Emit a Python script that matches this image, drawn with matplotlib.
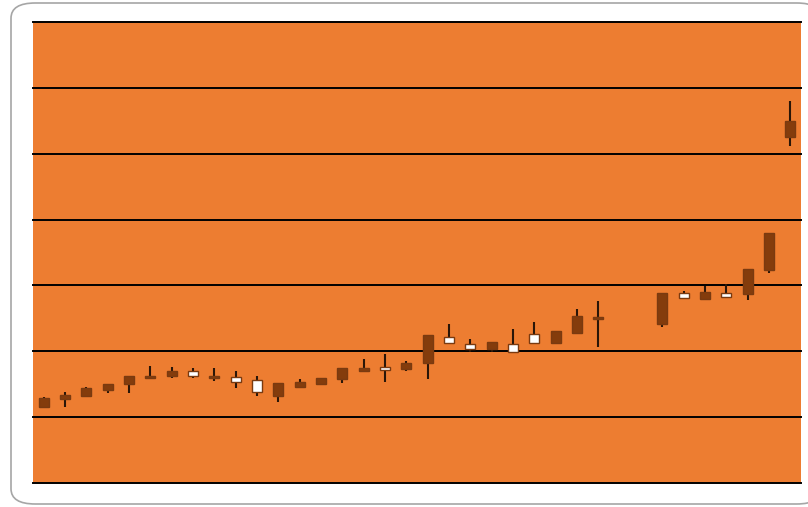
import matplotlib

matplotlib.use("Agg")
import matplotlib.pyplot as plt
import numpy as np
from matplotlib.patches import FancyBboxPatch

# 36 trading slots, two of them empty (no quote)
opens = [12.95, 13.36, 14.38, 14.99, 16.29, 16.29, 17.05, 16.25, 16.29, 15.38,
         13.77, 15.14, 15.29, 15.90, 17.42, 17.42, 17.16, 18.18, 22.47, 21.26,
         20.30, 21.36, 19.85, 21.21, 23.12, 25.40, 25.16, None, None, 28.80,
         28.04, 29.05, 28.20, 32.45, 37.91, 55.01]
highs = [13.10, 13.86, 14.53, 15.00, 16.29, 17.81, 17.66, 17.42, 17.42, 17.01,
         16.25, 15.14, 15.75, 15.90, 17.42, 18.78, 19.54, 18.57, 22.47, 24.07,
         21.82, 21.36, 23.38, 24.49, 23.12, 26.37, 27.68, None, None, 28.80,
         29.20, 29.91, 30.22, 32.45, 37.91, 58.05]
lows = [11.55, 11.59, 13.21, 13.71, 13.71, 15.94, 15.90, 15.90, 15.53, 14.47,
        13.26, 12.34, 14.38, 15.03, 15.23, 17.05, 15.29, 17.05, 15.75, 21.26,
        19.94, 19.94, 19.85, 21.21, 21.21, 22.73, 20.70, None, None, 23.73,
        28.04, 27.94, 28.20, 27.79, 31.93, 51.22]
closes = [11.59, 12.71, 13.21, 14.12, 15.03, 15.94, 16.25, 17.01, 15.90, 16.05,
          15.64, 13.26, 14.62, 15.03, 15.75, 17.05, 17.66, 17.31, 18.27, 22.21,
          21.06, 20.30, 21.06, 22.62, 21.21, 22.73, 24.86, None, None, 24.14,
          28.80, 27.94, 28.80, 28.70, 32.34, 52.49]
y_ticks = [0, 10, 20, 30, 40, 50, 60, 70]

ORANGE = "#ED7D31"
DOWN = "#843C0C"
WICK = "#2a1608"

fig = plt.figure(figsize=(8.08, 5.07), dpi=100)

# rounded chart frame, kept behind the plot area
frame = FancyBboxPatch((11 / 808, 3 / 507), 810 / 808, 501 / 507,
                       boxstyle="round,pad=0,rounding_size=0.03",
                       transform=fig.transFigure, facecolor="white",
                       edgecolor="#a6a6a6", linewidth=1.2, zorder=-5)
fig.patches.append(frame)

ax = fig.add_axes([33 / 808, 24 / 507, 768 / 808, 461 / 507], zorder=2)
ax.set_facecolor(ORANGE)

n = len(opens)
x = np.arange(n)
ax.set_xlim(-0.5, n - 0.5)
ax.set_ylim(y_ticks[0], y_ticks[-1])

for y in y_ticks:
    ax.axhline(y, color="black", linewidth=1.4, zorder=1, clip_on=False)

for i in range(n):
    o, h, l, c = opens[i], highs[i], lows[i], closes[i]
    if o is None:
        continue
    ax.vlines(x[i], l, h, color=WICK, linewidth=1.5, zorder=2)
    up = c >= o
    bottom = min(o, c)
    height = max(abs(c - o), 0.25)
    ax.bar(x[i], height, bottom=bottom, width=0.46,
           color="white" if up else DOWN,
           edgecolor="#7a3a10", linewidth=1.0, zorder=3)

ax.set_xticks([])
ax.set_yticks([])
for s in ax.spines.values():
    s.set_visible(False)

fig.savefig("out.png", dpi=100)
